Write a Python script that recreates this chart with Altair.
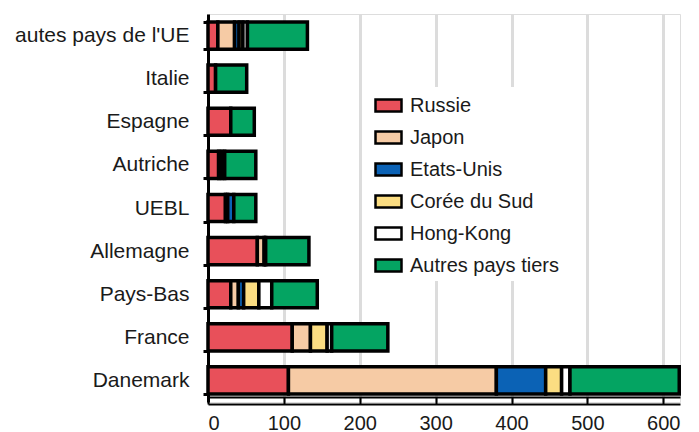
import altair as alt
import pandas as pd

categories = ["autes pays de l'UE", "Italie", "Espagne", "Autriche", "UEBL",
              "Allemagne", "Pays-Bas", "France", "Danemark"]
series = ["Russie", "Japon", "Etats-Unis", "Corée du Sud", "Hong-Kong", "Autres pays tiers"]
colors = ["#E8505A", "#F6CBA5", "#0B62B5", "#FBDD82", "#FFFFFF", "#04A462"]

russie = [13, 10, 30, 14, 23, 65, 30, 111, 106]
japon = [22, 0, 0, 4, 3, 9, 10, 24, 274]
etats_unis = [6, 0, 0, 4, 8, 2, 7, 0, 65]
coree = [5, 0, 0, 0, 0, 0, 20, 22, 21]
hong_kong = [6, 0, 0, 0, 0, 0, 17, 6, 11]
autres = [79, 41, 31, 41, 29, 57, 60, 74, 144]

x_ticks = [0, 100, 200, 300, 400, 500, 600]

values = [russie, japon, etats_unis, coree, hong_kong, autres]
rows = []
for si, (s, vals) in enumerate(zip(series, values)):
    for c, v in zip(categories, vals):
        if v > 0:
            rows.append({"pays": c, "origine": s, "valeur": v, "ordre": si})
df = pd.DataFrame(rows)

FONT = "Liberation Sans"

xscale = alt.Scale(domain=[0, 622], nice=False, zero=True)

bars = alt.Chart(df).mark_bar(stroke="black", strokeWidth=3.5, strokeJoin="miter").encode(
    y=alt.Y("pays:N", sort=categories, title=None,
            scale=alt.Scale(paddingInner=0.37, paddingOuter=0.185),
            axis=alt.Axis(labelFont=FONT, labelFontSize=21, labelColor="#1a1a1a",
                          domainColor="black", domainWidth=3, tickColor="black",
                          tickWidth=3, tickSize=5, tickBand="extent", labelPadding=14,
                          grid=False)),
    x=alt.X("valeur:Q", stack="zero", title=None, scale=xscale,
            axis=alt.Axis(values=x_ticks, labelFont=FONT, labelFontSize=20,
                          labelColor="#1a1a1a", grid=True, gridColor="#DCDCDC",
                          gridWidth=3, ticks=False, domainColor="black",
                          domainWidth=2, offset=2, labelPadding=9)),
    color=alt.Color("origine:N", sort=series,
                    scale=alt.Scale(domain=series, range=colors),
                    legend=alt.Legend(orient="none", legendX=162, legendY=73, title=None,
                                      fillColor="white", padding=4,
                                      symbolType="M-1,-0.46L1,-0.46L1,0.46L-1,0.46Z",
                                      symbolSize=676, symbolStrokeColor="black",
                                      symbolStrokeWidth=2.5, symbolOpacity=1,
                                      labelFont=FONT, labelFontSize=20,
                                      labelColor="#1a1a1a", rowPadding=6,
                                      labelOffset=7)),
    order=alt.Order("ordre:Q", sort="ascending"),
)

axis_box = alt.Chart(df).mark_rule(opacity=0).encode(
    x=alt.X("valeur:Q", title=None, scale=xscale,
            axis=alt.Axis(orient="bottom", values=x_ticks, labels=False, grid=False,
                          offset=-5, tickColor="black", tickWidth=2, tickSize=7,
                          domainColor="black", domainWidth=2))
)

chart = alt.layer(bars, axis_box).resolve_axis(x="independent").properties(
    width=472, height=388,
    autosize=alt.AutoSizeParams(type="none"),
    padding={"left": 200, "top": 6, "right": 11, "bottom": 30},
).configure_view(stroke=None).configure(background="white")

chart.save("out.html", embed_options={"renderer": "svg", "actions": False})
